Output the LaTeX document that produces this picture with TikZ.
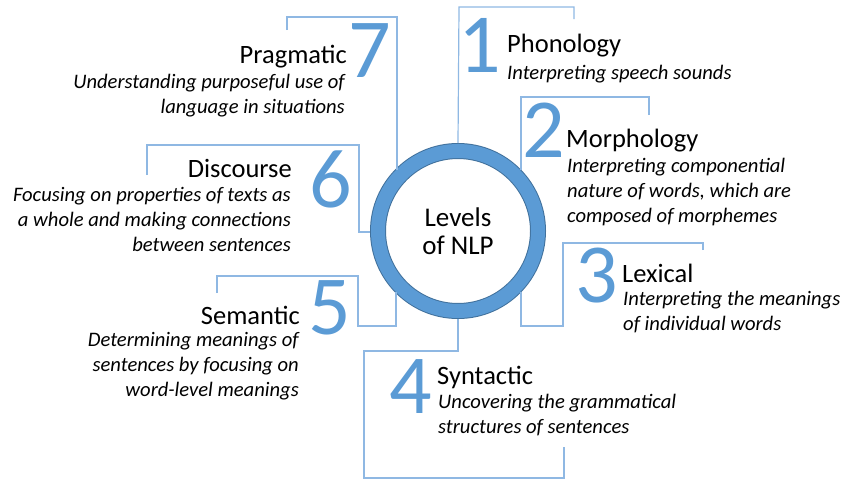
\documentclass[tikz,border=0pt]{standalone}
\usepackage{fontspec}
\setmainfont{Carlito}
\definecolor{numblue}{HTML}{5B9BD5}
\definecolor{ringdark}{HTML}{41719C}
\definecolor{linecol}{HTML}{8FB8E3}
\begin{document}
\begin{tikzpicture}[x=1pt,y=-1pt,
  conn/.style={draw=linecol,line width=1.2pt},
  num/.style={text=numblue,font=\fontsize{84}{84}\selectfont,inner sep=0pt,anchor=base west},
  ttl/.style={font=\fontsize{26.5}{30}\selectfont,inner sep=0pt},
  desc/.style={font=\itshape\fontsize{20.6}{24.7}\selectfont,inner sep=0pt}]
\useasboundingbox (0,0) rectangle (850,490);
\node[circle,draw=ringdark,double=numblue,double distance=14pt,line width=1pt,
  minimum size=160pt,inner sep=0pt,outer sep=8pt,align=center,
  font=\fontsize{27}{28}\selectfont] (ring) at (458,231) {Levels\\of NLP};
% corner coordinates
\coordinate (a1) at (459,7); \coordinate (b1) at (574,7); \coordinate (e1) at (574,19);
\coordinate (a2) at (521,97); \coordinate (b2) at (649,97); \coordinate (e2) at (649,115);
\coordinate (a3) at (703,250); \coordinate (b3) at (703,243); \coordinate (c3) at (563,243); \coordinate (d3) at (563,326); \coordinate (f3) at (521,326);
\coordinate (a4) at (458,351); \coordinate (b4) at (364,351); \coordinate (c4) at (364,478); \coordinate (d4) at (564,478); \coordinate (e4) at (564,447);
\coordinate (a5) at (217,293); \coordinate (b5) at (217,276); \coordinate (c5) at (358,276); \coordinate (d5) at (358,326); \coordinate (f5) at (396,326);
\coordinate (a6) at (147,175); \coordinate (b6) at (147,145); \coordinate (c6) at (359,145); \coordinate (d6) at (359,232);
\coordinate (a7) at (287,30); \coordinate (b7) at (287,17); \coordinate (c7) at (397,17);
\draw[conn] (ring.north) -- (a1) -- (b1) -- (e1);
\draw[conn] (e2) -- (b2) -- (a2) -- (a2 |- ring.44);
\draw[conn] (a3) -- (b3) -- (c3) -- (d3) -- (f3) -- (f3 |- ring.-44);
\draw[conn] (ring.south) -- (a4) -- (b4) -- (c4) -- (d4) -- (e4);
\draw[conn] (a5) -- (b5) -- (c5) -- (d5) -- (f5) -- (f5 |- ring.-136);
\draw[conn] (a6) -- (b6) -- (c6) -- (d6) -- (ring.west |- d6);
\draw[conn] (a7) -- (b7) -- (c7) -- (c7 |- ring.136);
% numbers
\node[num] (n1) at (458,72) {1};
\node[num] (n2) at (522,157) {2};
\node[num] (n3) at (575,302) {3};
\node[num] (n4) at (389,413) {4};
\node[num] (n5) at (308,334) {5};
\node[num] (n6) at (309,207) {6};
\node[num] (n7) at (348,77) {7};
% titles
\node[ttl,anchor=base west] (t1) at (507,52) {Phonology};
\node[ttl,anchor=base west] (t2) at (566,147) {Morphology};
\node[ttl,anchor=base west] (t3) at (622,282) {Lexical};
\node[ttl,anchor=base west] (t4) at (437,384) {Syntactic};
\node[ttl,anchor=base east] (t5) at (300,324) {Semantic};
\node[ttl,anchor=base east] (t6) at (292,177) {Discourse};
\node[ttl,anchor=base east] (t7) at (347,63) {Pragmatic};
% descriptions (base = last line)
\node[desc,anchor=base west,align=left] (d1) at (507,79) {Interpreting speech sounds};
\node[desc,anchor=base west,align=left] (dd2) at (567,222) {Interpreting componential\\nature of words, which are\\composed of morphemes};
\node[desc,anchor=base west,align=left] (dd3) at (623,330) {Interpreting the meanings\\of individual words};
\node[desc,anchor=base west,align=left] (dd4) at (438,433) {Uncovering the grammatical\\structures of sentences};
\node[desc,anchor=base east,align=right] (dd5) at (299,396) {Determining meanings of\\sentences by focusing on\\word-level meanings};
\node[desc,anchor=base east,align=right] (dd6) at (291,251) {Focusing on properties of texts as\\a whole and making connections\\between sentences};
\node[desc,anchor=base east,align=right] (dd7) at (345,113) {Understanding purposeful use of\\language in situations};
\end{tikzpicture}
\end{document}
